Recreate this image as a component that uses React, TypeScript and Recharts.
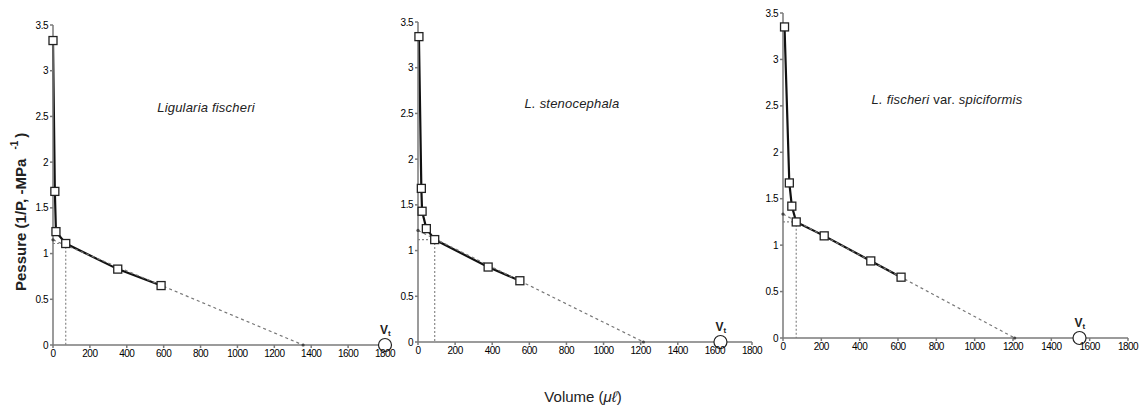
import React from 'react';
import { ComposedChart, Line, Scatter, XAxis, YAxis } from 'recharts';

// Ligularia fischeri
const vol1 = [0, 10, 16, 69, 351, 586];
const pre1 = [3.33, 1.68, 1.24, 1.11, 0.83, 0.65];
const regVol1 = [0, 1356];
const regPre1 = [1.15, 0];
const guideVol1 = [0, 69, 69];
const guidePre1 = [1.11, 1.11, 0];
const vt1 = 1800;

// L. stenocephala
const vol2 = [5, 18, 22, 45, 90, 378, 549];
const pre2 = [3.34, 1.68, 1.43, 1.24, 1.12, 0.82, 0.67];
const regVol2 = [0, 1215];
const regPre2 = [1.22, 0];
const guideVol2 = [0, 90, 90];
const guidePre2 = [1.12, 1.12, 0];
const vt2 = 1630;

// L. fischeri var. spiciformis
const vol3 = [8, 33, 46, 69, 215, 458, 616];
const pre3 = [3.35, 1.67, 1.42, 1.25, 1.1, 0.83, 0.655];
const regVol3 = [0, 1209];
const regPre3 = [1.335, 0];
const guideVol3 = [0, 69, 69];
const guidePre3 = [1.25, 1.25, 0];
const vt3 = 1547;

const xTicks = [0, 200, 400, 600, 800, 1000, 1200, 1400, 1600, 1800];
const yTicks = [0, 0.5, 1, 1.5, 2, 2.5, 3, 3.5];

const toRows = (xs: number[], ys: number[]) => xs.map((x, i) => ({ x, y: ys[i] }));

const tickFont = {
  fontSize: 10,
  fill: '#000',
  letterSpacing: -0.5,
  fontFamily: '"Liberation Sans", Arial, sans-serif',
};

const Square = (p: any) => {
  if (p.cx == null) return null;
  return <rect key={`sq-${p.index}`} x={p.cx - 4} y={p.cy - 4} width={8} height={8} fill="#fff" stroke="#222" strokeWidth={1.3} />;
};

const SmallDot = (p: any) => {
  if (p.cx == null) return null;
  return <circle key={`d-${p.index}`} cx={p.cx} cy={p.cy} r={1.6} fill="#444" />;
};

const VtMark = (p: any) => (
  <g>
    <circle cx={p.cx} cy={p.cy} r={6.5} fill="#fff" stroke="#222" strokeWidth={1.2} />
    <text x={p.cx - 5} y={p.cy - 11} fontSize={12} fontWeight="bold" fontFamily="Arial, sans-serif" fill="#222">
      V<tspan fontSize={8} dy={2}>t</tspan>
    </text>
  </g>
);

type Box = { left: number; top: number; right: number; bottom: number };

const Panel: React.FC<{ box: Box; vol: number[]; pre: number[]; regVol: number[]; regPre: number[]; guideVol: number[]; guidePre: number[]; vt: number }> = ({ box, vol, pre, regVol, regPre, guideVol, guidePre, vt }) => {
  const yW = 30;
  const xH = 28;
  const rightM = 12;
  const left = box.left - yW;
  const width = box.right - left + rightM;
  const height = box.bottom + xH + 4;
  return (
    <div style={{ position: 'absolute', left, top: 0 }}>
      <ComposedChart width={width} height={height} margin={{ top: box.top, right: rightM, bottom: 4, left: 0 }}>
        <XAxis
          type="number"
          dataKey="x"
          domain={[0, 1800]}
          ticks={xTicks}
          interval={0}
          tick={tickFont}
          tickSize={3}
          height={xH}
          stroke="#7a7a7a"
          strokeWidth={1.5}
        />
        <YAxis
          type="number"
          dataKey="y"
          domain={[0, 3.5]}
          ticks={yTicks}
          interval={0}
          tick={tickFont}
          tickSize={3}
          width={yW}
          stroke="#7a7a7a"
          strokeWidth={1.5}
        />
        <Line data={toRows(guideVol, guidePre)} dataKey="y" stroke="#888" strokeWidth={1.2} strokeDasharray="2 2" dot={false} isAnimationActive={false} />
        <Line data={toRows(vol, pre)} dataKey="y" stroke="#111" strokeWidth={2.2} dot={Square} isAnimationActive={false} />
        <Line data={toRows(regVol, regPre)} dataKey="y" stroke="#777" strokeWidth={1.2} strokeDasharray="3 3" dot={SmallDot} isAnimationActive={false} />
        <Scatter data={[{ x: vt, y: 0 }]} dataKey="y" shape={VtMark} isAnimationActive={false} />
      </ComposedChart>
    </div>
  );
};

const App: React.FC = () => (
  <div style={{ position: 'absolute', left: 0, top: 0, width: 1142, height: 408, background: '#fff' }}>
    <Panel box={{ left: 53, top: 25, right: 385, bottom: 345 }} vol={vol1} pre={pre1} regVol={regVol1} regPre={regPre1} guideVol={guideVol1} guidePre={guidePre1} vt={vt1} />
    <Panel box={{ left: 418, top: 22, right: 752, bottom: 342 }} vol={vol2} pre={pre2} regVol={regVol2} regPre={regPre2} guideVol={guideVol2} guidePre={guidePre2} vt={vt2} />
    <Panel box={{ left: 783, top: 13, right: 1128, bottom: 338 }} vol={vol3} pre={pre3} regVol={regVol3} regPre={regPre3} guideVol={guideVol3} guidePre={guidePre3} vt={vt3} />
    <svg width={1142} height={408} style={{ position: 'absolute', left: 0, top: 0, pointerEvents: 'none' }} fontFamily="Arial, 'Liberation Sans', sans-serif">
      <text x={206} y={112} textAnchor="middle" fontSize={13} letterSpacing={0.2} fontStyle="italic" fill="#222">Ligularia fischeri</text>
      <text x={572} y={108} textAnchor="middle" fontSize={13} letterSpacing={0.2} fontStyle="italic" fill="#222">L. stenocephala</text>
      <text x={947} y={104} textAnchor="middle" fontSize={13} letterSpacing={0.2} fill="#222">
        <tspan fontStyle="italic">L. fischeri</tspan> var. <tspan fontStyle="italic">spiciformis</tspan>
      </text>
      <text x={583} y={402} textAnchor="middle" fontSize={15} fill="#222">
        Volume (<tspan fontStyle="italic">μℓ</tspan>)
      </text>
      <text transform="translate(26,291) rotate(-90)" fontSize={15} fontWeight="bold" fill="#222">
        Pessure (1/P, -MPa <tspan fontSize={10} dy={-8} dx={5}>-1</tspan><tspan dy={8} dx={3}>)</tspan>
      </text>
    </svg>
  </div>
);

export default App;
